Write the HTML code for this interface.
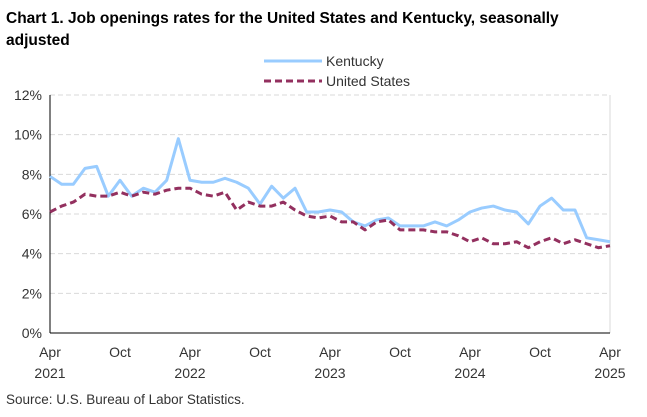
<!DOCTYPE html>
<html><head><meta charset="utf-8"><style>
body{margin:0;background:#fff;font-family:"Liberation Sans",Arial,sans-serif}
svg text{font-family:"Liberation Sans",Arial,sans-serif}
</style></head><body>
<svg width="647" height="412" viewBox="0 0 647 412">
<text x="6" y="23" font-size="15.5" font-weight="bold" fill="#000">Chart 1. Job openings rates for the United States and Kentucky, seasonally</text>
<text x="6" y="45" font-size="15.5" font-weight="bold" fill="#000">adjusted</text>
<g>
<line x1="264" y1="61" x2="322" y2="61" stroke="#99ccff" stroke-width="3"/>
<text x="326" y="66" font-size="14" fill="#333">Kentucky</text>
<line x1="264" y1="81" x2="322" y2="81" stroke="#93305f" stroke-width="3" stroke-dasharray="7,4"/>
<text x="326" y="86" font-size="14" fill="#333">United States</text>
</g>
<g id="grid"></g><g id="axes"></g><g id="series"></g>
<text x="6" y="404" font-size="13.5" fill="#333">Source: U.S. Bureau of Labor Statistics.</text>
</svg>
<script>
const yTicks=[0,2,4,6,8,10,12];
const xTickLabels=["Apr","Oct","Apr","Oct","Apr","Oct","Apr","Oct","Apr"];
const xTickYears=["2021","","2022","","2023","","2024","","2025"];
const xTickMonths=[0,6,12,18,24,30,36,42,48];
const kentucky=[7.9,7.5,7.5,8.3,8.4,6.9,7.7,6.9,7.3,7.1,7.7,9.8,7.7,7.6,7.6,7.8,7.6,7.3,6.5,7.4,6.8,7.3,6.1,6.1,6.2,6.1,5.6,5.4,5.7,5.8,5.4,5.4,5.4,5.6,5.4,5.7,6.1,6.3,6.4,6.2,6.1,5.5,6.4,6.8,6.2,6.2,4.8,4.7,4.6];
const unitedStates=[6.1,6.4,6.6,7.0,6.9,6.9,7.1,6.9,7.1,7.0,7.2,7.3,7.3,7.0,6.9,7.1,6.2,6.6,6.4,6.4,6.6,6.2,5.9,5.8,5.9,5.6,5.6,5.2,5.6,5.7,5.2,5.2,5.2,5.1,5.1,4.9,4.6,4.8,4.5,4.5,4.6,4.3,4.6,4.8,4.5,4.7,4.5,4.3,4.4];
const NS="http://www.w3.org/2000/svg";
const X0=50,X1=610,Y0=333,Y1=95;
const xs=i=>X0+(X1-X0)*i/48;
const ys=v=>Y0-(Y0-Y1)*v/12;
function mk(t,a,p){const e=document.createElementNS(NS,t);for(const k in a)e.setAttribute(k,a[k]);p.appendChild(e);return e;}
const grid=document.getElementById('grid'),axes=document.getElementById('axes'),ser=document.getElementById('series');
yTicks.forEach(v=>{
  if(v>0){const l=mk('line',{x1:X0,x2:X1,y1:ys(v),y2:ys(v),stroke:'#d9d9d9','stroke-dasharray':'5,3'},grid);
  
  }
  const t=mk('text',{x:X0-8,y:ys(v)+5,'text-anchor':'end','font-size':'14',fill:'#333'},axes);
  t.textContent=v+'%';
  
  
});
const ra=mk('line',{x1:X1,x2:X1,y1:Y1,y2:Y0,stroke:'#d9d9d9'},axes);


const ya=mk('line',{x1:X0,x2:X0,y1:Y1,y2:Y0,stroke:'#000'},axes);


const xa=mk('line',{x1:X0,x2:X1,y1:Y0,y2:Y0,stroke:'#000'},axes);


xTickMonths.forEach((m,i)=>{
  const t=mk('text',{x:xs(m),y:357,'text-anchor':'middle','font-size':'14',fill:'#333'},axes);
  t.textContent=xTickLabels[i];
  
  
  if(xTickYears[i]){const y=mk('text',{x:xs(m),y:378,'text-anchor':'middle','font-size':'14',fill:'#333'},axes);
  y.textContent=xTickYears[i];
  
  }
});
function line(data,attrs,name){
  const p=mk('polyline',Object.assign({points:data.map((v,i)=>xs(i)+','+ys(v)).join(' '),fill:'none','stroke-linejoin':'round'},attrs),ser);
  
  
}
line(kentucky,{stroke:'#99ccff','stroke-width':3},'kentucky-line');
line(unitedStates,{stroke:'#93305f','stroke-width':3,'stroke-dasharray':'7,4'},'united-states-line');
</script>
</body></html>
